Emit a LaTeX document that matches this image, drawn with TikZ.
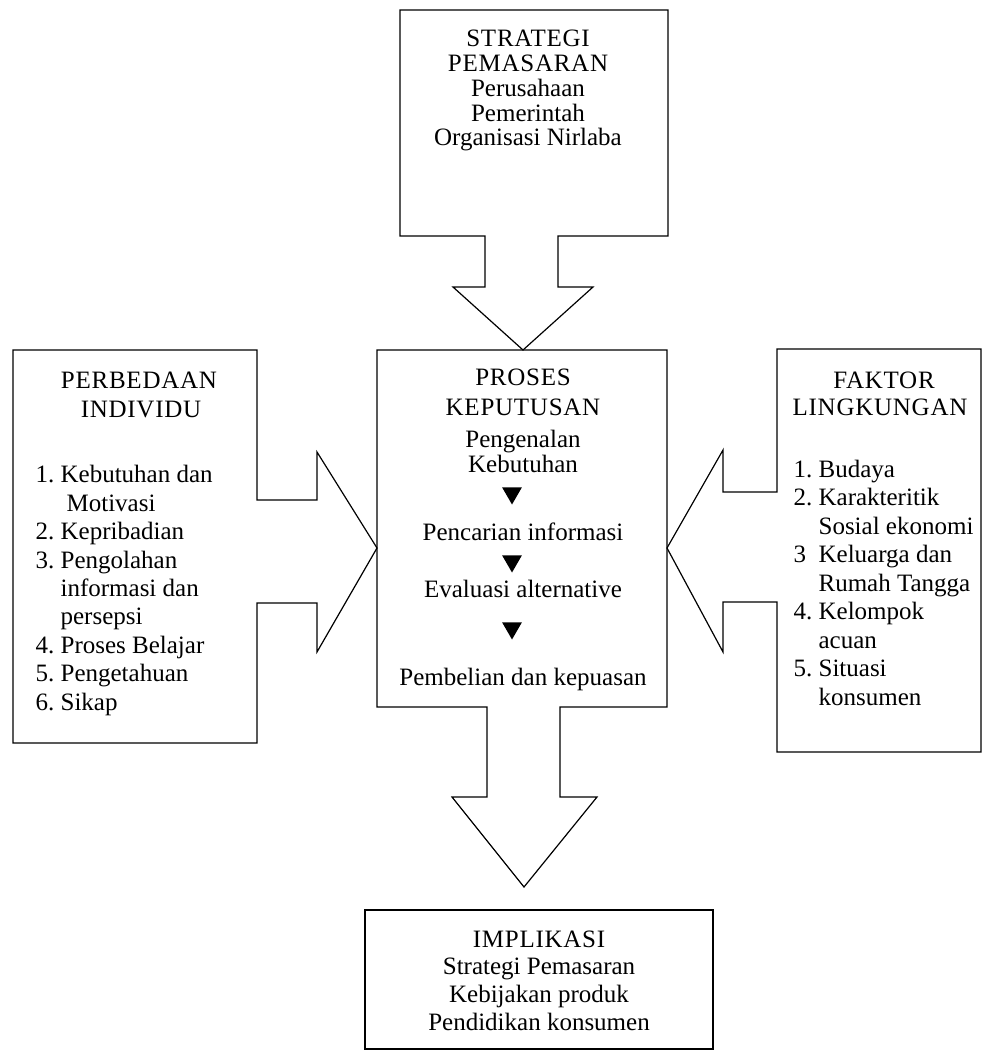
\documentclass[tikz,border=0pt]{standalone}
\usepackage{fontspec}
\setmainfont{Liberation Serif}
\usetikzlibrary{shapes.geometric}

\begin{document}
\begin{tikzpicture}[x=1pt,y=-1pt,line width=1.2pt,line join=miter,
  area/.style={inner sep=0pt,outer sep=0pt,draw=none},
  % multi-line texts are anchored at the baseline of their last line
  txt/.style={align=center,inner sep=0pt,anchor=base},
  caps/.style={txt,font=\fontsize{25}{#1}\selectfont\addfontfeature{LetterSpace=3}},
  body/.style={txt,font=\fontsize{25}{#1}\selectfont},
  list/.style={align=left,inner sep=0pt,anchor=base west,font=\fontsize{25}{#1}\selectfont},
  flowmark/.style={regular polygon,regular polygon sides=3,shape border rotate=180,
    fill=black,draw=none,inner sep=0pt,minimum size=23pt}]
\useasboundingbox (0,0) rectangle (983,1062);

% ---------- box areas ----------
\node[area,minimum width=268pt,minimum height=226pt] (strat) at (534,123) {};
\node[area,minimum width=290pt,minimum height=357pt] (proses) at (522,528.5) {};
\node[area,minimum width=244pt,minimum height=393pt] (indiv) at (135,546.5) {};
\node[area,minimum width=204pt,minimum height=403pt] (ling) at (879,550.5) {};
\node[area,minimum width=348pt,minimum height=139pt] (impl) at (539,979.5) {};

% ---------- outlines with block arrows ----------
% strategy box with arrow down into the decision box
\draw (strat.south west) -- (strat.north west) -- (strat.north east) -- (strat.south east)
  -- (558,236) -- (558,287) -- (593,287) -- (proses.north -| 523,0) -- (453,287)
  -- (485,287) -- (485,236) -- cycle;
% decision box with arrow down to implications
\draw (proses.north west) -- (proses.north east) -- (proses.south east)
  -- (560,707) -- (560,797) -- (597,797) -- (524,887) -- (452,797) -- (487,797)
  -- (487,707) -- (proses.south west) -- cycle;
% individual differences box with arrow to the right
\draw (indiv.north east) -- (indiv.north west) -- (indiv.south west) -- (indiv.south east)
  -- (257,603) -- (317,603) -- (317,652) -- (proses.west |- 0,548) -- (317,452)
  -- (317,500) -- (257,500) -- cycle;
% environment box with arrow to the left
\draw (ling.north west) -- (ling.north east) -- (ling.south east) -- (ling.south west)
  -- (777,602) -- (723,602) -- (723,652) -- (proses.east |- 0,548) -- (723,450)
  -- (723,492) -- (777,492) -- cycle;
% implications box
\draw (impl.north west) rectangle (impl.south east);

% ---------- texts ----------
\node[caps=25] (stratT1) at (528,72) {STRATEGI\\PEMASARAN};
\node[body=24.8] (stratT2) at (528,146) {Perusahaan\\Pemerintah\\Organisasi Nirlaba};

\node[caps=30] (prosT) at (523,415) {PROSES\\KEPUTUSAN};
\node[body=25] (step1) at (523,472) {Pengenalan\\Kebutuhan};
\node[flowmark] (m1) at (512,493) {};
\node[body=25] (step2) at (523,540) {Pencarian informasi};
\node[flowmark] (m2) at (512,561) {};
\node[body=25] (step3) at (523,597) {Evaluasi alternative};
\node[flowmark] (m3) at (512,628) {};
\node[body=25] (step4) at (523,685) {Pembelian dan kepuasan};

\node[caps=29] (indivT) at (141,417) {\hspace*{-4pt}PERBEDAAN\\INDIVIDU};
\node[list=28.4] (indivL) at (35,710) {%
  \makebox[25pt][l]{1.}Kebutuhan dan\\
  \hspace*{31pt}Motivasi\\
  \makebox[25pt][l]{2.}Kepribadian\\
  \makebox[25pt][l]{3.}Pengolahan\\
  \hspace*{25pt}informasi dan\\
  \hspace*{25pt}persepsi\\
  \makebox[25pt][l]{4.}Proses Belajar\\
  \makebox[25pt][l]{5.}Pengetahuan\\
  \makebox[25pt][l]{6.}Sikap};

\node[caps=27] (lingT) at (880,415) {\hspace*{8pt}FAKTOR\\LINGKUNGAN};
\node[list=28.5] (lingL) at (793,705) {%
  \makebox[25pt][l]{1.}Budaya\\
  \makebox[25pt][l]{2.}Karakteritik\\
  \hspace*{25pt}Sosial ekonomi\\
  \makebox[25pt][l]{3}Keluarga dan\\
  \hspace*{25pt}Rumah Tangga\\
  \makebox[25pt][l]{4.}Kelompok\\
  \hspace*{25pt}acuan\\
  \makebox[25pt][l]{5.}Situasi\\
  \hspace*{25pt}konsumen};

\node[caps=27.7] (implT1) at (539,947) {IMPLIKASI};
\node[body=27.7] (implT2) at (539,1030) {Strategi Pemasaran\\Kebijakan produk\\Pendidikan konsumen};
\end{tikzpicture}
\end{document}
